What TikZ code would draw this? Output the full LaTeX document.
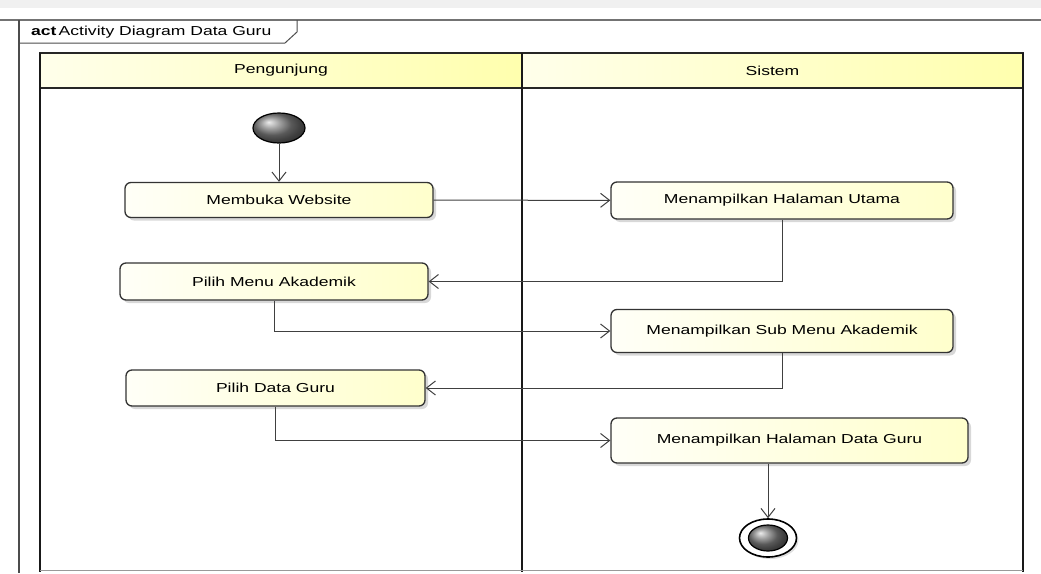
\documentclass[tikz,border=0pt]{standalone}
\usepackage{fontspec}
\newfontfamily\umlfont{Liberation Sans}[FakeStretch=1.35]
\usetikzlibrary{arrows.meta,shapes.geometric,shadows}
\tikzset{
	activity/.style={rectangle,rounded corners=6pt,draw=black!80,line width=1.3pt,
		left color=yellow!3,right color=yellow!20,
		drop shadow={shadow xshift=3pt,shadow yshift=-3pt,fill=black!30,opacity=.5},
		font=\umlfont\fontsize{13}{15}\selectfont},
	lanehead/.style={rectangle,draw=black!85,line width=1.3pt,left color=yellow!8,right color=yellow!32,
		font=\umlfont\fontsize{13}{15}\selectfont,minimum height=35pt},
	lane/.style={line width=2.5pt,black!90},
	flow/.style={-{Straight Barb[length=9pt,width=14pt,line width=1pt]},black!75,line width=1pt},
	initial/.style={ellipse,draw=black,line width=1.2pt,ball color=black!50,inner sep=0pt}
}
\begin{document}
\begin{tikzpicture}[x=1pt,y=-1pt]
	\useasboundingbox (0,0) rectangle (1041,573);
	% frame
	\fill[black!6] (0,0) rectangle (1041,8);
	\draw[black!55,line width=1.5pt] (0,20) -- (1041,20);
	\draw[black!70,line width=1.2pt] (19,20) -- (19,573);
	\draw[black!70,line width=1pt] (19,43) -- (285,43) -- (297,32) -- (297,20);
	\node[anchor=west,font=\umlfont\fontsize{13}{15}\selectfont,inner sep=0pt] (title) at (31,32) {\textbf{act}\,Activity Diagram Data Guru};
	% lanes
	\node[lanehead,minimum width=482pt] (hpeng) at (281,70.5) {Pengunjung};
	\node[lanehead,minimum width=501pt] (hsis) at (772.5,70.5) {Sistem};
	\foreach \x in {40,522,1023}{
		\draw[lane] (\x,53) -- (\x,572);
	}
	\draw[black!40,line width=1pt] (40,570) -- (1023,570);
	% activities
	\node[initial,minimum width=52pt,minimum height=30pt] (start) at (279,128) {};
	\node[activity,minimum width=308pt,minimum height=35pt] (buka) at (279,200) {Membuka Website};
	\node[activity,minimum width=308pt,minimum height=37pt] (menu) at (274,281.5) {Pilih Menu Akademik};
	\node[activity,minimum width=299pt,minimum height=36pt] (guru) at (275.5,388) {Pilih Data Guru};
	\node[activity,minimum width=342pt,minimum height=37pt] (utama) at (782,200.5) {Menampilkan Halaman Utama};
	\node[activity,minimum width=342pt,minimum height=43pt] (sub) at (782,331) {Menampilkan Sub Menu Akademik};
	\node[activity,minimum width=357pt,minimum height=45pt] (tampil) at (789.5,440.5) {Menampilkan Halaman Data Guru};
	\node[ellipse,draw=black,line width=1.6pt,fill=white,minimum width=57pt,minimum height=38pt,
		drop shadow={shadow xshift=2pt,shadow yshift=-2pt,fill=black!25,opacity=.5}] (fin) at (768,538) {};
	\node[initial,minimum width=39pt,minimum height=26pt] (finin) at (fin) {};
	% flows
	\draw[flow] (start) -- (start |- buka.north);
	\draw[flow] (buka) -- (utama);
	\draw[flow] (utama.south) |- (menu.east);
	\draw[flow] (menu.south) |- (sub.west);
	\draw[flow] (sub.south) |- (guru.east);
	\draw[flow] (guru.south) |- (tampil.west);
	\draw[flow] (tampil.south -| fin) -- (fin.north);
\end{tikzpicture}
\end{document}
